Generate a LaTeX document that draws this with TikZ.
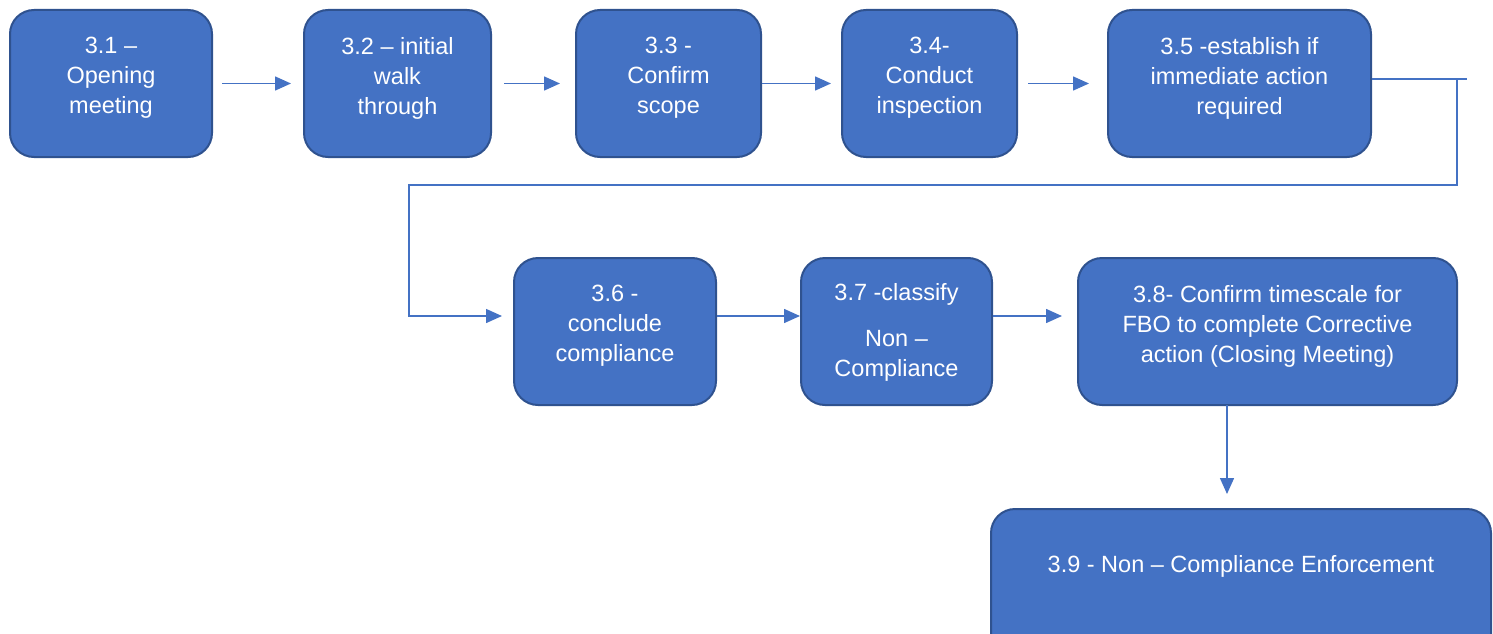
\documentclass[tikz,border=0pt]{standalone}
\usepackage{fontspec}
\setmainfont{Liberation Sans}
\usetikzlibrary{arrows.meta}
\definecolor{boxfill}{HTML}{4472C4}
\definecolor{boxline}{HTML}{2F528F}
\definecolor{conn}{HTML}{4472C4}
\tikzset{
  box/.style={draw=boxline, line width=2pt, fill=boxfill, rounded corners=24pt, inner sep=0pt},
  txt/.style={text=white, align=center, font=\fontsize{23.5}{30}\selectfont, inner sep=0pt},
  arr/.style={draw=conn, line width=1.5pt, -{Triangle[length=16pt,width=14pt]}},
  ln/.style={draw=conn, line width=1.5pt}
}
\begin{document}
\begin{tikzpicture}[x=1pt,y=-1pt]
\useasboundingbox (0,0) rectangle (1493,634);
\clip (0,0) rectangle (1493,634);
% boxes
\node[box, minimum width=202pt, minimum height=147pt] (n31) at (111,83.5) {};
\node[box, minimum width=187pt, minimum height=147pt] (n32) at (397.5,83.5) {};
\node[box, minimum width=185pt, minimum height=147pt] (n33) at (668.5,83.5) {};
\node[box, minimum width=175pt, minimum height=147pt] (n34) at (929.5,83.5) {};
\node[box, minimum width=263pt, minimum height=147pt] (n35) at (1239.5,83.5) {};
\node[box, minimum width=202pt, minimum height=147pt] (n36) at (615,331.5) {};
\node[box, minimum width=191pt, minimum height=147pt] (n37) at (896.5,331.5) {};
\node[box, minimum width=379pt, minimum height=147pt] (n38) at (1267.5,331.5) {};
\node[box, minimum width=500pt, minimum height=160pt] (n39) at (1241,589) {};
% texts
\node[txt] (t31) at (111,78) {3.1 –\\Opening\\meeting};
\node[txt] (t32) at (397.5,78) {3.2 – initial\\walk\\through};
\node[txt] (t33) at (668.5,78) {3.3 -\\Confirm\\scope};
\node[txt] (t34) at (929.5,78) {3.4-\\Conduct\\inspection};
\node[txt] (t35) at (1239.5,78) {3.5 -establish if\\immediate action\\required};
\node[txt] (t36) at (615,326) {3.6 -\\conclude\\compliance};
\node[txt] (t37) at (896.5,332) {3.7 -classify\\[16pt]Non –\\Compliance};
\node[txt] (t38) at (1267.5,326) {3.8- Confirm timescale for\\FBO to complete Corrective\\action (Closing Meeting)};
\node[txt] (t39) at (1241,566) {3.9 - Non – Compliance Enforcement};
% connectors
\draw[arr] ([xshift=9pt]n31.east) -- ([xshift=-12pt]n32.west);
\draw[arr] ([xshift=12pt]n32.east) -- ([xshift=-15pt]n33.west);
\draw[arr] (n33.east) -- ([xshift=-10pt]n34.west);
\draw[arr] ([xshift=10pt]n34.east) -- ([xshift=-18pt]n35.west);
\coordinate (c1) at (1467,79);
\coordinate (c2) at (1457,79);
\coordinate (c3) at (409,185);
\draw[ln] (n35.east |- c1) -- (c1);
\draw[arr] (c2) |- (c3) |- ([xshift=-11pt]n36.west |- 0,316) ;
\draw[arr] (n36.east |- 0,316) -- (n37.west |- 0,316);
\draw[arr] (n37.east |- 0,316) -- ([xshift=-15pt]n38.west |- 0,316);
\draw[arr] (1227,405) -- (1227,494);
\end{tikzpicture}
\end{document}
